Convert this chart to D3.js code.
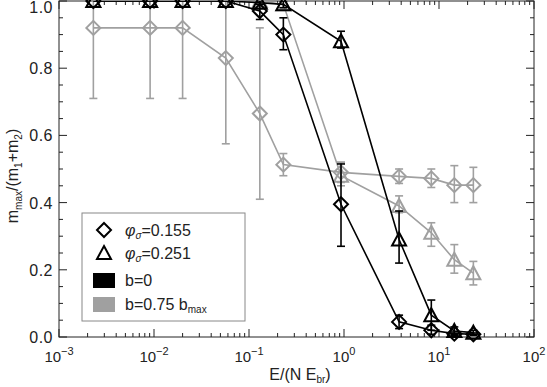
<!DOCTYPE html>
<html>
<head>
<meta charset="utf-8">
<script src="https://cdn.jsdelivr.net/npm/d3@7"></script>
<style>
  body { margin: 0; background: #fff; }
  text { font-family: "Liberation Sans", Arial, sans-serif; }
</style>
</head>
<body>
<div id="chart"></div>
<script>
// energy values (x) shared by all runs
var energies = [0.0023, 0.0091, 0.020, 0.057, 0.13, 0.23, 0.93, 3.8, 8.3, 14.5, 23];

// b=0, phi=0.155 (black diamonds)
var blackDiamond    = [1.0, 1.0, 1.0, 1.0, 0.97, 0.90, 0.395, 0.045, 0.02, 0.01, 0.008];
var blackDiamondLo  = [1.0, 1.0, 1.0, 1.0, 0.945, 0.855, 0.27, 0.025, 0.008, 0.005, 0.005];
var blackDiamondHi  = [1.0, 1.0, 1.0, 1.0, 0.99, 0.95, 0.515, 0.065, 0.035, 0.015, 0.012];

// b=0, phi=0.251 (black triangles)
var blackTriangle   = [1.0, 1.0, 1.0, 1.0, 0.995, 0.99, 0.88, 0.29, 0.065, 0.018, 0.013];
var blackTriangleLo = [1.0, 1.0, 1.0, 1.0, 0.99, 0.98, 0.86, 0.22, 0.02, 0.008, 0.008];
var blackTriangleHi = [1.0, 1.0, 1.0, 1.0, 1.0, 1.0, 0.91, 0.375, 0.11, 0.03, 0.02];

// b=0.75 bmax, phi=0.155 (gray diamonds)
var grayDiamond     = [0.92, 0.92, 0.92, 0.83, 0.665, 0.513, 0.49, 0.478, 0.472, 0.452, 0.452];
var grayDiamondLo   = [0.71, 0.71, 0.71, 0.575, 0.41, 0.48, 0.46, 0.457, 0.445, 0.40, 0.40];
var grayDiamondHi   = [1.13, 1.13, 1.13, 1.09, 0.92, 0.546, 0.52, 0.50, 0.50, 0.51, 0.505];

// b=0.75 bmax, phi=0.251 (gray triangles)
var grayTriangle    = [1.0, 1.0, 1.0, 1.0, 1.0, 0.99, 0.48, 0.39, 0.31, 0.23, 0.19];
var grayTriangleLo  = [1.0, 1.0, 1.0, 1.0, 1.0, 0.98, 0.45, 0.37, 0.27, 0.19, 0.155];
var grayTriangleHi  = [1.0, 1.0, 1.0, 1.0, 1.0, 1.0, 0.52, 0.42, 0.34, 0.275, 0.225];

var xTickExp = [-3, -2, -1, 0, 1, 2];
var yTicks = [0.0, 0.2, 0.4, 0.6, 0.8, 1.0];

var W = 547, H = 387;
var plotL = 59, plotR = 534, plotT = 1, plotB = 337;
var BLACK = "#000", GRAY = "#a0a0a0";

var svg = d3.select("#chart").append("svg")
    .attr("width", W)
    .attr("height", H);

var x = d3.scaleLog().domain([1e-3, 1e2]).range([plotL, plotR]);
var y = d3.scaleLinear().domain([0, 1]).range([plotB, plotT]);

svg.append("clipPath").attr("id", "clip")
  .append("rect")
    .attr("x", plotL).attr("y", plotT)
    .attr("width", plotR - plotL).attr("height", plotB - plotT);

// frame
svg.append("rect")
    .attr("x", plotL).attr("y", plotT)
    .attr("width", plotR - plotL).attr("height", plotB - plotT)
    .attr("fill", "none")
    .attr("stroke", "#222")
    .attr("stroke-width", 1);

// x ticks (major + minor), bottom and top, pointing inward
var xMinor = [];
for (var e = -3; e < 2; e++) {
  for (var k = 2; k <= 9; k++) xMinor.push(k * Math.pow(10, e));
}
var xMajor = xTickExp.map(function(p) { return Math.pow(10, p); });

var tickG = svg.append("g").attr("stroke", "#222").attr("stroke-width", 1);
xMajor.forEach(function(v) {
  tickG.append("line").attr("x1", x(v)).attr("x2", x(v)).attr("y1", plotB).attr("y2", plotB - 8);
  tickG.append("line").attr("x1", x(v)).attr("x2", x(v)).attr("y1", plotT).attr("y2", plotT + 8);
});
xMinor.forEach(function(v) {
  tickG.append("line").attr("x1", x(v)).attr("x2", x(v)).attr("y1", plotB).attr("y2", plotB - 4);
  tickG.append("line").attr("x1", x(v)).attr("x2", x(v)).attr("y1", plotT).attr("y2", plotT + 4);
});

// y ticks, left and right
d3.range(0, 1.0001, 0.05).forEach(function(v, i) {
  var len = (i % 4 === 0) ? 8 : 4;
  tickG.append("line").attr("x1", plotL).attr("x2", plotL + len).attr("y1", y(v)).attr("y2", y(v));
  tickG.append("line").attr("x1", plotR).attr("x2", plotR - len).attr("y1", y(v)).attr("y2", y(v));
});

// x tick labels
xTickExp.forEach(function(p) {
  var t = svg.append("text")
      .attr("x", x(Math.pow(10, p)))
      .attr("y", 362)
      .attr("text-anchor", "middle")
      .attr("font-size", 15)
      .attr("fill", "#222");
  t.append("tspan").text("10");
  t.append("tspan").attr("dy", -7).attr("font-size", 11)
      .text(p < 0 ? "\u2212" + (-p) : String(p));
});

// y tick labels (top one nudged down to stay inside the page)
yTicks.forEach(function(v) {
  svg.append("text")
      .attr("x", plotL - 6)
      .attr("y", v === 1 ? 13 : y(v) + 6)
      .attr("text-anchor", "end")
      .attr("font-size", 16)
      .attr("letter-spacing", 0.5)
      .attr("fill", "#222")
      .text(v.toFixed(1));
});

// x axis title
var xl = svg.append("text")
    .attr("x", 300).attr("y", 380)
    .attr("text-anchor", "middle")
    .attr("font-size", 16)
    .attr("fill", "#222");
xl.append("tspan").text("E/(N E");
xl.append("tspan").attr("dy", 3).attr("font-size", 10).text("br");
xl.append("tspan").attr("dy", -3).text(")");

// y axis title
var yl = svg.append("text")
    .attr("transform", "translate(18,176) rotate(-90)")
    .attr("text-anchor", "middle")
    .attr("font-size", 16)
    .attr("fill", "#222");
yl.append("tspan").text("m");
yl.append("tspan").attr("dy", 4).attr("font-size", 10).text("max");
yl.append("tspan").attr("dy", -4).text("/(m");
yl.append("tspan").attr("dy", 4).attr("font-size", 10).text("1");
yl.append("tspan").attr("dy", -4).text("+m");
yl.append("tspan").attr("dy", 4).attr("font-size", 10).text("2");
yl.append("tspan").attr("dy", -4).text(")");

var plot = svg.append("g");

var diamondPath = "M0,-7L7,0L0,7L-7,0Z";
var trianglePath = "M0,-7L7,6L-7,6Z";

function drawSeries(vals, lo, hi, color, shape) {
  var pts = energies.map(function(e, i) { return {x: e, v: vals[i], lo: lo[i], hi: hi[i]}; });
  var g = plot.append("g").attr("clip-path", "url(#clip)")
      .attr("stroke", color).attr("fill", "none").attr("stroke-width", 1.6);
  g.append("path")
      .datum(pts)
      .attr("d", d3.line()
        .x(function(d) { return x(d.x); })
        .y(function(d) { return y(d.v); }));
  pts.forEach(function(d) {
    if (d.hi - d.lo < 0.001) return;
    g.append("line").attr("x1", x(d.x)).attr("x2", x(d.x)).attr("y1", y(d.lo)).attr("y2", y(d.hi));
    g.append("line").attr("x1", x(d.x) - 4).attr("x2", x(d.x) + 4).attr("y1", y(d.lo)).attr("y2", y(d.lo));
    g.append("line").attr("x1", x(d.x) - 4).attr("x2", x(d.x) + 4).attr("y1", y(d.hi)).attr("y2", y(d.hi));
  });
  plot.append("g").selectAll("path")
    .data(pts)
    .enter()
    .append("path")
      .attr("d", shape)
      .attr("transform", function(d) { return "translate(" + x(d.x) + "," + y(d.v) + ")"; })
      .attr("fill", "none")
      .attr("stroke", color)
      .attr("stroke-width", 2);
}

drawSeries(grayDiamond, grayDiamondLo, grayDiamondHi, GRAY, diamondPath);
drawSeries(grayTriangle, grayTriangleLo, grayTriangleHi, GRAY, trianglePath);
drawSeries(blackDiamond, blackDiamondLo, blackDiamondHi, BLACK, diamondPath);
drawSeries(blackTriangle, blackTriangleLo, blackTriangleHi, BLACK, trianglePath);

// legend
var lg = svg.append("g");
lg.append("rect")
    .attr("x", 82).attr("y", 213)
    .attr("width", 163).attr("height", 108)
    .attr("fill", "#fff")
    .attr("stroke", "#888")
    .attr("stroke-width", 1);

lg.append("path").attr("d", diamondPath).attr("transform", "translate(104,230)")
    .attr("fill", "none").attr("stroke", BLACK).attr("stroke-width", 2);
lg.append("path").attr("d", trianglePath).attr("transform", "translate(104,253)")
    .attr("fill", "none").attr("stroke", BLACK).attr("stroke-width", 2);
lg.append("rect").attr("x", 93).attr("y", 273).attr("width", 22).attr("height", 15).attr("fill", BLACK);
lg.append("rect").attr("x", 93).attr("y", 297).attr("width", 22).attr("height", 15).attr("fill", GRAY);

function phiLabel(yPos, val) {
  var t = lg.append("text").attr("x", 125).attr("y", yPos).attr("font-size", 16).attr("fill", "#222");
  t.append("tspan").attr("font-style", "italic").text("\u03c6");
  t.append("tspan").attr("dy", 3).attr("font-size", 10).attr("font-style", "italic").text("\u03c3");
  t.append("tspan").attr("dy", -3).text("=" + val);
}
phiLabel(236, "0.155");
phiLabel(259, "0.251");
lg.append("text").attr("x", 125).attr("y", 286).attr("font-size", 16).attr("fill", "#222").text("b=0");
var bl = lg.append("text").attr("x", 125).attr("y", 310).attr("font-size", 16).attr("fill", "#222");
bl.append("tspan").text("b=0.75 b");
bl.append("tspan").attr("dy", 3).attr("font-size", 10).text("max");
</script>
</body>
</html>
